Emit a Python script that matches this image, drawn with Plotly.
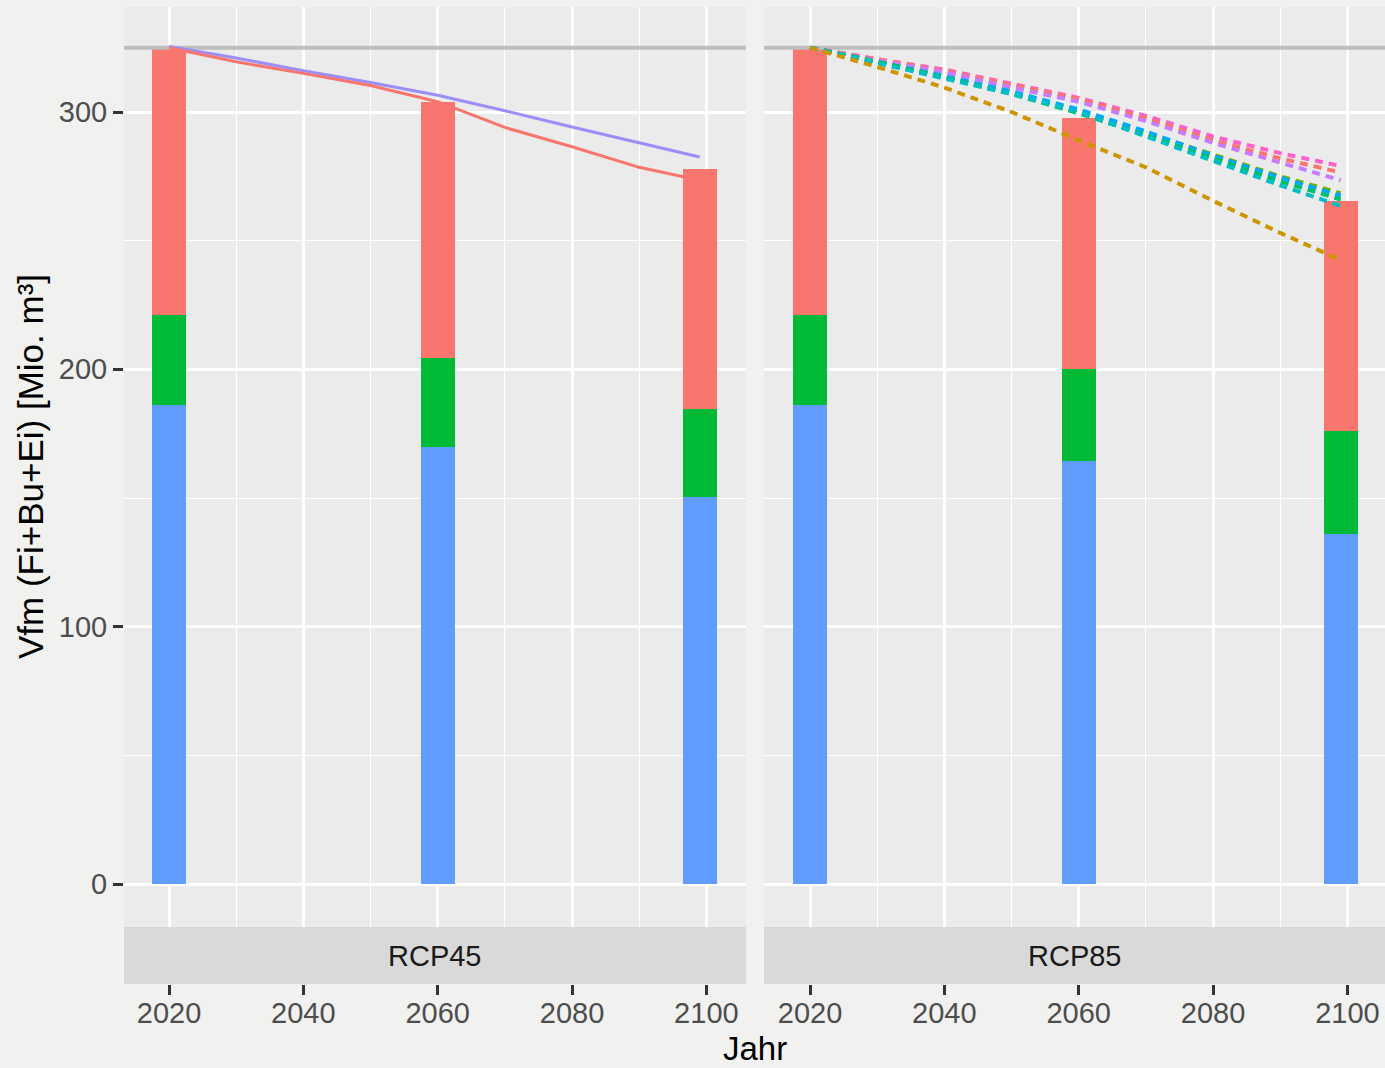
import plotly.graph_objects as go

# ---- stock per species (Mio. m³), stacked bars ----
bar_years = [2020, 2060, 2099]
fi_rcp45 = [186.0, 170.0, 150.5]
ei_rcp45 = [35.0, 34.5, 34.0]
bu_rcp45 = [104.0, 99.5, 93.5]
fi_rcp85 = [186.0, 164.5, 136.0]
ei_rcp85 = [35.0, 35.5, 40.0]
bu_rcp85 = [104.0, 97.5, 89.5]

# ---- total stock trajectories ----
line_years = [2020, 2030, 2040, 2050, 2060, 2070, 2080, 2090, 2099]
rcp45_a = [325.0, 319.5, 315.0, 310.3, 304.0, 294.0, 286.5, 278.5, 273.5]
rcp45_b = [325.5, 321.0, 316.0, 311.5, 306.5, 300.5, 294.2, 288.0, 282.5]
rcp85_runs = {
    "#FF61CC": [325.0, 320.5, 316.5, 311.0, 305.5, 298.5, 290.5, 284.0, 279.0],
    "#F8766D": [325.0, 320.5, 316.0, 310.5, 305.0, 297.5, 289.0, 282.0, 276.5],
    "#C77CFF": [325.0, 320.0, 315.5, 309.5, 304.0, 296.5, 288.0, 280.5, 273.5],
    "#7CAE00": [325.0, 319.5, 313.5, 307.5, 300.5, 292.0, 283.5, 275.0, 268.5],
    "#00A9FF": [325.0, 319.5, 314.0, 308.0, 301.0, 292.5, 283.0, 274.5, 267.5],
    "#00BE67": [325.0, 319.5, 313.5, 307.0, 299.5, 291.0, 282.0, 273.0, 266.0],
    "#00BFC4": [325.0, 319.0, 313.0, 307.0, 300.0, 290.5, 281.0, 271.5, 263.5],
    "#CD9600": [325.0, 317.5, 309.5, 300.0, 289.0, 278.5, 265.5, 253.0, 242.5],
}
start_stock = 325.0

facets = ["RCP45", "RCP85"]
x_ticks = [2020, 2040, 2060, 2080, 2100]
y_ticks = [0, 100, 200, 300]

W, H = 1385, 1068
FONT = "Liberation Sans, Arial, sans-serif"
C_FI, C_EI, C_BU = "#619CFF", "#00BA38", "#F8766D"
BAR_W = 5.1

# panel geometry (pixels)
p1_l, p1_r, p2_l, p2_r = 124, 746, 764, 1385
p_top, p_bot, strip_bot = 7, 927, 984
x1_rng = [2013.3, 2105.9]
x2_rng = [2013.15, 2105.6]

fig = go.Figure()

# starting-stock reference line across each panel
for xa, ya, rng in [("x", "y", x1_rng), ("x2", "y2", x2_rng)]:
    fig.add_trace(go.Scatter(x=rng, y=[start_stock, start_stock], mode="lines",
                             line=dict(color="#BEBEBE", width=4),
                             xaxis=xa, yaxis=ya, showlegend=False,
                             hoverinfo="skip"))


def add_bars(xa, ya, fi, ei, bu):
    for name, vals, col in [("Fi", fi, C_FI), ("Ei", ei, C_EI), ("Bu", bu, C_BU)]:
        fig.add_trace(go.Bar(x=bar_years, y=vals, width=BAR_W, name=name,
                             marker=dict(color=col, line=dict(width=0)),
                             xaxis=xa, yaxis=ya, showlegend=False))


add_bars("x", "y", fi_rcp45, ei_rcp45, bu_rcp45)
add_bars("x2", "y2", fi_rcp85, ei_rcp85, bu_rcp85)

fig.add_trace(go.Scatter(x=line_years, y=rcp45_b, mode="lines",
                         line=dict(color="#9B8EF7", width=3),
                         xaxis="x", yaxis="y", showlegend=False))
fig.add_trace(go.Scatter(x=line_years, y=rcp45_a, mode="lines",
                         line=dict(color="#F8766D", width=3),
                         xaxis="x", yaxis="y", showlegend=False))
for col, vals in rcp85_runs.items():
    fig.add_trace(go.Scatter(x=line_years, y=vals, mode="lines",
                             line=dict(color=col, width=4, dash="8px,6px"),
                             xaxis="x2", yaxis="y2", showlegend=False))


def fx(px):
    return px / W


def fy(py):
    return 1 - py / H


y_dom = [fy(p_bot), fy(p_top)]
y_rng = [-16.7, 340.8]

axis_common = dict(
    showgrid=True, gridcolor="white", gridwidth=2.6, zeroline=False,
    showline=False, ticks="outside", ticklen=10, tickwidth=3,
    tickcolor="#333333",
    tickfont=dict(family=FONT, size=29, color="#4D4D4D"),
)
x_minor = dict(dtick=10, tick0=2020, showgrid=True,
               gridcolor="white", gridwidth=1.2, ticks="")
y_minor = dict(tickvals=[50, 150, 250], showgrid=True,
               gridcolor="white", gridwidth=1.2, ticks="")

fig.update_layout(
    width=W, height=H,
    margin=dict(l=0, r=0, t=0, b=0),
    paper_bgcolor="#F1F1EF",
    plot_bgcolor="#EBEBEB",
    barmode="stack",
    bargap=0,
    xaxis=dict(domain=[fx(p1_l), fx(p1_r)], range=x1_rng,
               tickvals=x_ticks, anchor="free", position=fy(strip_bot),
               ticklabelstandoff=-7, minor=x_minor, **axis_common),
    xaxis2=dict(domain=[fx(p2_l), fx(p2_r)], range=x2_rng,
                tickvals=x_ticks, anchor="free", position=fy(strip_bot),
                ticklabelstandoff=-7, minor=x_minor, **axis_common),
    yaxis=dict(domain=y_dom, range=y_rng, tickvals=y_ticks, anchor="x",
               minor=y_minor, **axis_common),
    yaxis2=dict(domain=y_dom, range=y_rng, tickvals=y_ticks, anchor="x2",
                showticklabels=False, minor=y_minor,
                **{**axis_common, "ticks": ""}),
)

shapes = []
annotations = []
for (l, r), lab in [((p1_l, p1_r), facets[0]), ((p2_l, p2_r), facets[1])]:
    # facet strip below the panel
    shapes.append(dict(type="rect", xref="paper", yref="paper",
                       x0=fx(l), x1=fx(r), y0=fy(strip_bot), y1=fy(p_bot),
                       fillcolor="#D9D9D9", line=dict(width=0), layer="below"))
    annotations.append(dict(text=lab, xref="paper", yref="paper",
                            x=fx((l + r) / 2), y=fy((p_bot + strip_bot) / 2),
                            xanchor="center", yanchor="middle", showarrow=False,
                            font=dict(family=FONT, size=29, color="#1A1A1A")))

annotations.append(dict(text="Jahr", xref="paper", yref="paper",
                        x=fx((p1_l + p2_r) / 2), y=fy(1048),
                        xanchor="center", yanchor="middle", showarrow=False,
                        font=dict(family=FONT, size=33, color="black")))
annotations.append(dict(text="Vfm (Fi+Bu+Ei) [Mio. m³]", xref="paper", yref="paper",
                        x=fx(30), y=fy((p_top + p_bot) / 2), textangle=-90,
                        xanchor="center", yanchor="middle", showarrow=False,
                        font=dict(family=FONT, size=35, color="black")))

fig.update_layout(shapes=shapes, annotations=annotations)
fig.write_html("out.html")
